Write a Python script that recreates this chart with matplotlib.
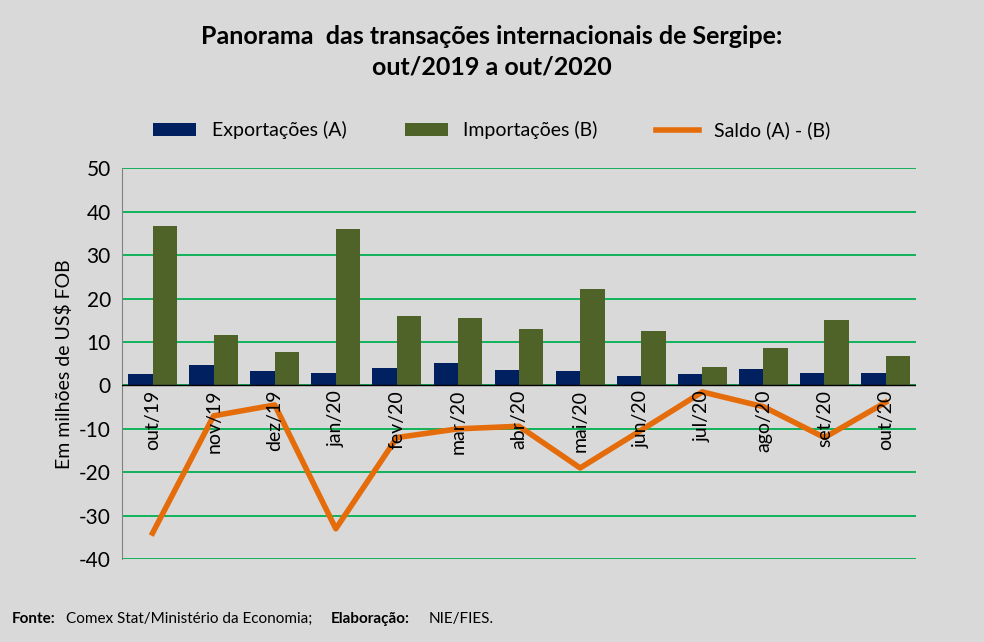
import numpy as np
import matplotlib.pyplot as plt

plt.rcParams['font.family'] = ['Lato', 'DejaVu Sans']
plt.rcParams['axes.unicode_minus'] = False

months = ['out/19', 'nov/19', 'dez/19', 'jan/20', 'fev/20', 'mar/20', 'abr/20',
          'mai/20', 'jun/20', 'jul/20', 'ago/20', 'set/20', 'out/20']
exportacoes = [2.7, 4.7, 3.3, 2.9, 4.0, 5.2, 3.6, 3.3, 2.2, 2.7, 3.8, 2.9, 2.9]
importacoes = [36.7, 11.6, 7.8, 36.0, 16.0, 15.5, 13.0, 22.3, 12.5, 4.3, 8.7, 15.0, 6.8]
saldo = [-34.0, -7.0, -4.5, -33.0, -12.0, -10.0, -9.4, -19.0, -10.3, -1.5, -4.9, -12.0, -3.9]

bg = '#d9d9d9'
fig = plt.figure(figsize=(9.84, 6.42), dpi=100, facecolor=bg)
ax = fig.add_axes([0.124, 0.129, 0.807, 0.609], facecolor=bg)

x = np.arange(len(months))
w = 0.4
h1 = ax.bar(x - w / 2, exportacoes, w, color='#002060', label='Exportações (A)', zorder=3)
h2 = ax.bar(x + w / 2, importacoes, w, color='#4f6228', label='Importações (B)', zorder=3)
h3, = ax.plot(x, saldo, color='#e46c0a', lw=4, label='Saldo (A) - (B)', zorder=4)

ax.set_xlim(-0.5, len(months) - 0.5)
ax.set_ylim(-40, 50)
ax.set_yticks(range(-40, 51, 10))
ax.yaxis.grid(True, color='#00b050', lw=1.3, zorder=0)
ax.axhline(0, color='black', lw=1, zorder=5)
ax.tick_params(axis='y', labelsize=15, length=0, pad=8)
ax.set_xticks([])
for i, m in enumerate(months):
    ax.text(i, -1, m, rotation=90, ha='center', va='top', fontsize=14, zorder=6)
for s in ['top', 'right']:
    ax.spines[s].set_visible(False)
ax.spines['left'].set_color('#808080')
ax.spines['bottom'].set_visible(False)
ax.set_ylabel('Em milhões de US$ FOB', fontsize=14)

fig.text(0.5, 0.92, 'Panorama  das transações internacionais de Sergipe:\nout/2019 a out/2020',
         ha='center', va='center', fontsize=18, fontweight='bold', linespacing=1.4)
fig.legend([h1, h2, h3], ['Exportações (A)', 'Importações (B)', 'Saldo (A) - (B)'],
           loc='center', bbox_to_anchor=(0.5, 0.797), ncol=3, frameon=False, fontsize=14,
           handlelength=2.2, columnspacing=3)
fig.text(0.012, 0.03, 'Fonte:', fontsize=11, fontweight='bold')
fig.text(0.067, 0.03, 'Comex Stat/Ministério da Economia;', fontsize=11)
fig.text(0.336, 0.03, 'Elaboração:', fontsize=11, fontweight='bold')
fig.text(0.436, 0.03, 'NIE/FIES.', fontsize=11)

fig.savefig('out.png', facecolor=bg)
